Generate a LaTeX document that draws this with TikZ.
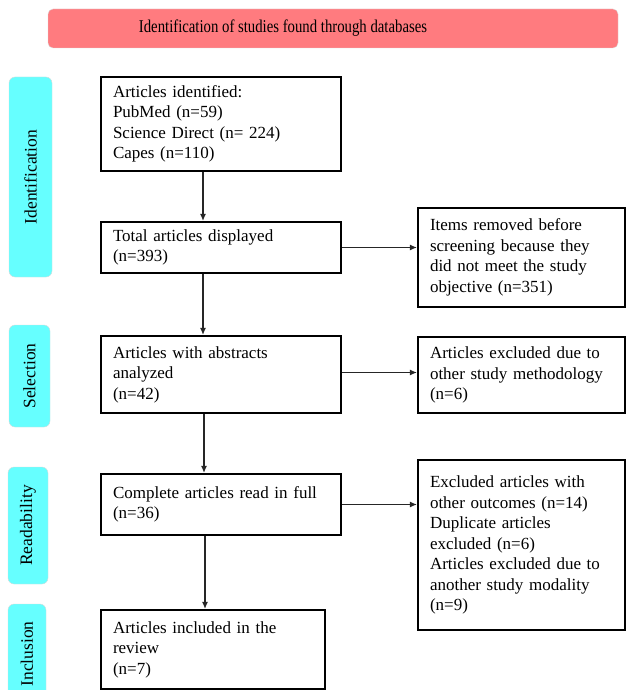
\documentclass[tikz,border=0pt]{standalone}
\usepackage{fontspec}
\setmainfont{Liberation Serif}
\usetikzlibrary{arrows.meta}

\definecolor{headred}{HTML}{FF7B7F}
\definecolor{stagecyan}{HTML}{66FFFF}

\tikzset{
  box/.style={draw, line width=2.2pt, align=left, inner xsep=12pt, inner ysep=0pt,
    font=\fontsize{17}{20.5}\selectfont},
  stage/.style={fill=stagecyan, draw=black!15, rounded corners=6pt, inner sep=0pt},
  arr/.style={-{Latex[length=7pt, width=6pt]}, line width=1.1pt, draw=black!85}
}

\begin{document}
\begin{tikzpicture}[x=1pt, y=-1pt]
  \useasboundingbox (0, 0) rectangle (627, 690);
  % header
  \node[fill=headred, draw=black!15, rounded corners=5pt, minimum width=570pt, minimum height=39pt] (head) at (333, 28.5) {};
  \node[font=\fontsize{18}{20}\selectfont] (headtext) at (283, 28) {\scalebox{0.82}[1]{Identification of studies found through databases}};
  % stages
  \foreach \n/\x/\y/\w/\h/\t in {ident/30.5/177/43/200/Identification, select/29.5/376/41/102/Selection,
      read/28/525.5/40/117/Readability, incl/27/654/38/100/Inclusion}{
    \node[stage, minimum width=\w pt, minimum height=\h pt] (\n) at (\x, \y) {};
    \node[rotate=90, font=\fontsize{17.5}{20}\selectfont] at (\n) {\t};
  }
  % main column
  \node[box, text width=216pt, minimum height=94pt] (b1) at (221, 124) {Articles identified:\\PubMed (n=59)\\Science Direct (n= 224)\\Capes (n=110)};
  \node[box, text width=216pt, minimum height=51pt] (b2) at (221, 247.5) {Total articles displayed\\(n=393)};
  \node[box, text width=216pt, minimum height=77pt] (b3) at (221, 374.5) {Articles with abstracts\\analyzed\\(n=42)};
  \node[box, text width=216pt, minimum height=61pt] (b4) at (221, 504.5) {Complete articles read in full\\(n=36)};
  \node[box, text width=200pt, minimum height=79pt] (b5) at (213, 649.5) {Articles included in the\\review\\(n=7)};
  % exclusions
  \node[box, text width=183pt, minimum height=99pt] (r1) at (521.5, 257.5) {Items removed before\\screening because they\\did not meet the study\\objective (n=351)};
  \node[box, text width=183pt, minimum height=76pt] (r2) at (521.5, 375) {Articles excluded due to\\other study methodology\\(n=6)};
  \node[box, text width=183pt, minimum height=170pt] (r3) at (521.5, 545) {Excluded articles with\\other outcomes (n=14)\\Duplicate articles\\excluded (n=6)\\Articles excluded due to\\another study modality\\(n=9)};
  % connectors
  \draw[arr] ([xshift=-18pt]b1.south) -- ([xshift=-18pt]b2.north);
  \draw[arr] ([xshift=-18pt]b2.south) -- ([xshift=-18pt]b3.north);
  \draw[arr] ([xshift=-17pt]b3.south) -- ([xshift=-17pt]b4.north);
  \draw[arr] ([xshift=-16pt]b4.south) -- ([xshift=-16pt]b4.south |- b5.north);
  \draw[arr] (b2.east) -- (b2.east -| r1.west);
  \draw[arr] ([yshift=2pt]b3.east) -- ([yshift=2pt]b3.east -| r2.west);
  \draw[arr] (b4.east) -- (b4.east -| r3.west);
\end{tikzpicture}
\end{document}
